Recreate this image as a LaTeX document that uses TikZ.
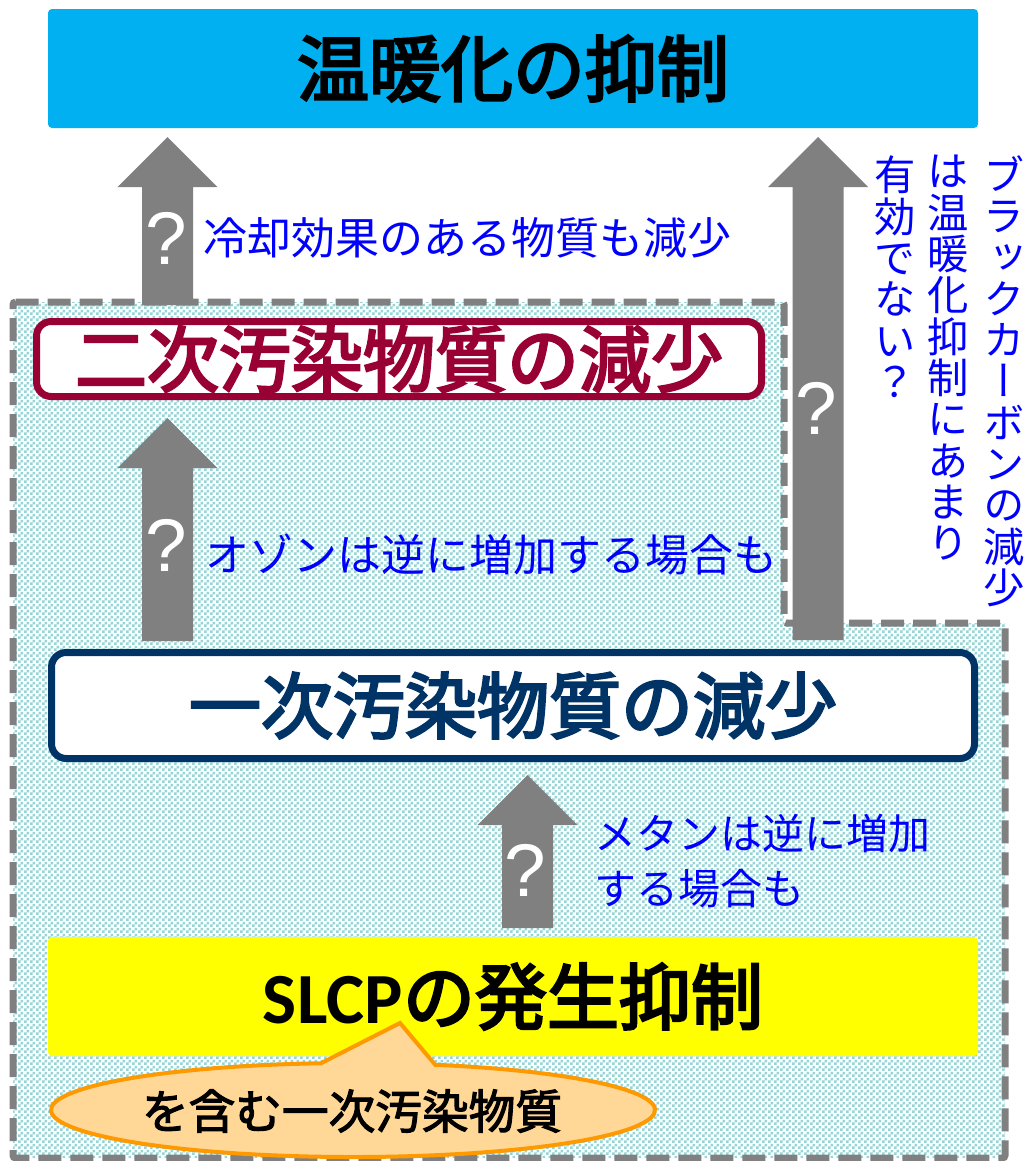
\documentclass[tikz,border=0pt]{standalone}
\usepackage{fontspec}
\usetikzlibrary{patterns,calc}
\setmainfont{Noto Sans CJK JP}
\newfontfamily\jp{Noto Sans CJK JP}
\newfontfamily\jpt[RawFeature={embolden=3.5}]{Noto Sans CJK JP}
\newfontfamily\jpm[RawFeature={embolden=2.5}]{Noto Sans CJK JP}
\newfontfamily\vjp[RawFeature={+vert}]{Noto Sans CJK JP}
\newfontfamily\qfont{Liberation Sans}
\newfontfamily\latinb{Carlito}
\definecolor{topblue}{RGB}{0,176,240}
\definecolor{boxred}{RGB}{153,0,51}
\definecolor{boxnavy}{RGB}{0,51,102}
\definecolor{arrowgray}{RGB}{128,128,128}
\definecolor{labelblue}{RGB}{0,0,255}
\definecolor{checkc}{RGB}{150,212,214}
\definecolor{callfill}{RGB}{255,216,152}
\definecolor{callline}{RGB}{255,153,0}
\definecolor{slcpyellow}{RGB}{255,255,0}
\pgfdeclarepatternformonly{mycheck}{\pgfqpoint{0pt}{0pt}}{\pgfqpoint{4.5pt}{4.5pt}}{\pgfqpoint{4.5pt}{4.5pt}}{%
  \pgfpathrectangle{\pgfpointorigin}{\pgfqpoint{2.25pt}{2.25pt}}%
  \pgfpathrectangle{\pgfqpoint{2.25pt}{2.25pt}}{\pgfqpoint{2.25pt}{2.25pt}}%
  \pgfusepath{fill}}
\newcommand\fatarrow[3]{% cx, ybottom, ytip
  \fill[arrowgray] (#1-25.5,#2) -- (#1-25.5,#3+50) -- (#1-50,#3+50) -- (#1,#3)
    -- (#1+50,#3+50) -- (#1+25.5,#3+50) -- (#1+25.5,#2) -- cycle;}
\newcommand\vstackset{\lineskiplimit=-100pt\relax\lineskip=0pt\relax}
\tikzset{
  titlebox/.style={fill=#1, rounded corners=3pt, inner sep=0pt,
    minimum width=697.5pt, minimum height=89.25pt,
    font=\fontsize{54}{60}\selectfont\jpt},
  framebox/.style={draw=#1, line width=5.25pt, fill=white, rounded corners=11pt,
    inner sep=0pt, text=#1, font=\fontsize{54}{60}\selectfont\jpt},
  qmark/.style={text=white, inner sep=0pt, font=\fontsize{56}{60}\selectfont\qfont},
  bluelabel/.style={text=labelblue, inner sep=0pt, anchor=west,
    font=\fontsize{33}{40}\selectfont\jp},
  vcol/.style={text=labelblue, inner sep=0pt, anchor=north, align=center,
    font=\fontsize{31}{31}\selectfont\vjp},
  region/.style={draw=arrowgray, line width=5.25pt, dash pattern=on 17.25pt off 6.75pt,
    rounded corners=2pt}
}
\begin{document}
\begin{tikzpicture}[x=0.75pt,y=-0.75pt]
\useasboundingbox (0,0) rectangle (1031,1161);
\fill[white] (0,0) rectangle (1031,1161);
% dashed region fill
\fill[pattern=mycheck, pattern color=checkc]
  (13,302) -- (784,302) -- (784,623) -- (1005,623) -- (1005,1158) -- (13,1158) -- cycle;

% boxes
\node[titlebox=topblue] (goal) at (513,68.5) {温暖化の抑制};
\node[framebox=boxred, minimum width=543.75pt, minimum height=56.25pt] (secondary) at (399,359) {二次汚染物質の減少};
\node[framebox=boxnavy, minimum width=692.25pt, minimum height=79.5pt] (primary) at (513,705.5) {一次汚染物質の減少};
\node[titlebox=slcpyellow] (slcp) at (513,996.5) {{\latinb\bfseries SLCP}の発生抑制};

% arrows
\fatarrow{167.5}{305}{137}
\node[qmark] (q1) at (166,238) {?};
\fatarrow{167.5}{641}{418}
\node[qmark] (q2) at (166,545) {?};
\fatarrow{818}{640}{137}
\node[qmark] (q3) at (816,408) {?};
\fatarrow{527.5}{928}{775}
\node[qmark] (q4) at (525,870) {?};

% dashed outline
\draw[region] (13,302) -- (784,302) -- (784,623) -- (1005,623) -- (1005,1158) -- (13,1158) -- cycle;

% labels
\node[bluelabel] (l1) at (203,238) {冷却効果のある物質も減少};
\node[bluelabel] (l2) at (205,555) {オゾンは逆に増加する場合も};
\node[bluelabel, align=left, font=\fontsize{31.5}{41}\selectfont\jp] (l3) at (594,861) {メタンは逆に増加\\する場合も};

% vertical text
\node[vcol] (v1) at (1004,155) {\vstackset ブ\\ラ\\ッ\\ク\\カ\\ー\\ボ\\ン\\の\\減\\少};
\node[vcol] (v2) at (948,155) {\vstackset は\\温\\暖\\化\\抑\\制\\に\\あ\\ま\\り};
\node[vcol] (v3) at (895,156) {\vstackset 有\\効\\で\\な\\い\\？};

% callout
\coordinate (tip) at (400,1023);
\filldraw[fill=callfill, draw=callline, line width=3pt, line join=miter]
  ($(353,1110)+(-74.2:302 and 47)$) arc[start angle=-74.2, end angle=263.9, x radius=302, y radius=47]
  -- (tip) -- cycle;
\node[inner sep=0pt, font=\fontsize{35}{40}\selectfont\jpm] (ctext) at (352,1111) {を含む一次汚染物質};
\end{tikzpicture}
\end{document}
